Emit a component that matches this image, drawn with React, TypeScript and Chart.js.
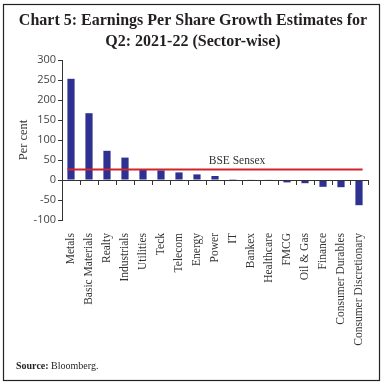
import React, { useEffect, useRef } from "react";
import { Chart, registerables } from "chart.js";

Chart.register(...registerables);

const categories = [
  "Metals", "Basic Materials", "Realty", "Industrials", "Utilities", "Teck",
  "Telecom", "Energy", "Power", "IT", "Bankex", "Healthcare", "FMCG",
  "Oil & Gas", "Finance", "Consumer Durables", "Consumer Discretionary",
];
const epsGrowth = [253, 167, 73, 56, 25, 24, 19, 14, 10, 2, 1, 1, -6, -8, -17, -18, -63];
const sensexValue = 26.5;
const sensexLabel = "BSE Sensex";
const titleLines = ["Chart 5: Earnings Per Share Growth Estimates for", "Q2: 2021-22 (Sector-wise)"];
const yTitle = "Per cent";
const sourceBold = "Source:";
const sourceText = " Bloomberg.";

const SERIF = "'Liberation Serif', 'DejaVu Serif', serif";
const SANS = "'Open Sans', 'Liberation Sans', sans-serif";

const decor = {
  id: "decor",
  beforeDraw(chart: any) {
    const ctx = chart.ctx;
    ctx.save();
    ctx.fillStyle = "#ffffff";
    ctx.fillRect(0, 0, chart.width, chart.height);
    ctx.strokeStyle = "#222";
    ctx.lineWidth = 1.2;
    ctx.strokeRect(3.5, 4.5, 376, 376);
    ctx.fillStyle = "#231f20";
    ctx.textAlign = "center";
    ctx.textBaseline = "alphabetic";
    ctx.font = `bold 16px ${SERIF}`;
    ctx.fillText(titleLines[0], 193, 25);
    ctx.fillText(titleLines[1], 193, 46);
    ctx.textAlign = "left";
    ctx.font = `bold 10px ${SERIF}`;
    ctx.fillText(sourceBold, 16, 369);
    const w = ctx.measureText(sourceBold).width;
    ctx.font = `10px ${SERIF}`;
    ctx.fillText(sourceText, 16 + w, 369);
    ctx.restore();
  },
  afterDatasetsDraw(chart: any) {
    const ctx = chart.ctx;
    const x = chart.scales.x;
    const y = chart.scales.y;
    const area = chart.chartArea;
    const y0 = y.getPixelForValue(0);
    ctx.save();
    ctx.strokeStyle = "#333";
    ctx.lineWidth = 1;
    ctx.beginPath();
    ctx.moveTo(area.left, Math.round(y0) + 0.5);
    ctx.lineTo(area.right, Math.round(y0) + 0.5);
    const n = categories.length;
    const step = (area.right - area.left) / n;
    for (let i = 0; i <= n; i++) {
      const px = Math.round(area.left + i * step) + 0.5;
      ctx.moveTo(px, Math.round(y0));
      ctx.lineTo(px, Math.round(y0) + 5);
    }
    ctx.stroke();
    const meta = chart.getDatasetMeta(0);
    const first = meta.data[0];
    const last = meta.data[meta.data.length - 1];
    const ys = y.getPixelForValue(sensexValue);
    ctx.strokeStyle = "#d2232a";
    ctx.lineWidth = 2;
    ctx.beginPath();
    ctx.moveTo(first.x - first.width / 2, ys);
    ctx.lineTo(last.x + last.width / 2, ys);
    ctx.stroke();
    ctx.fillStyle = "#333";
    ctx.font = `11.5px ${SERIF}`;
    ctx.textAlign = "center";
    ctx.fillText(sensexLabel, x.getPixelForValue(9) + 4, ys - 5);
    ctx.restore();
  },
};

export default function App() {
  const ref = useRef<HTMLCanvasElement>(null);
  useEffect(() => {
    document.body.style.margin = "0";
    const chart = new Chart(ref.current!, {
      type: "bar",
      data: {
        labels: categories,
        datasets: [
          {
            data: epsGrowth,
            backgroundColor: "#2e3192",
            borderWidth: 0,
            categoryPercentage: 0.8,
            barPercentage: 0.5,
          },
        ],
      },
      options: {
        animation: false,
        responsive: false,
        devicePixelRatio: 1,
        layout: { padding: { top: 60, left: 15, right: 16, bottom: 30 } },
        plugins: { legend: { display: false }, tooltip: { enabled: false }, title: { display: false } },
        scales: {
          x: {
            grid: { display: false },
            border: { display: false },
            ticks: {
              autoSkip: false,
              minRotation: 90,
              maxRotation: 90,
              padding: 5,
              color: "#333",
              font: { family: SERIF, size: 11.5 },
            },
            afterFit(scale: any) {
              scale.height = 134;
            },
          },
          y: {
            min: -100,
            max: 300,
            ticks: { stepSize: 50, color: "#444", padding: 2, font: { family: SANS, size: 11 } },
            grid: { drawOnChartArea: false, drawTicks: true, tickLength: 4, color: "#333" },
            border: { display: true, color: "#333", width: 1 },
            title: { display: true, text: yTitle, color: "#333", font: { family: SERIF, size: 12.5 }, padding: 1 },
            afterFit(scale: any) {
              scale.width = 47;
            },
          },
        },
      },
      plugins: [decor],
    } as any);
    return () => chart.destroy();
  }, []);
  return <canvas ref={ref} width={384} height={384} style={{ display: "block" }} />;
}
